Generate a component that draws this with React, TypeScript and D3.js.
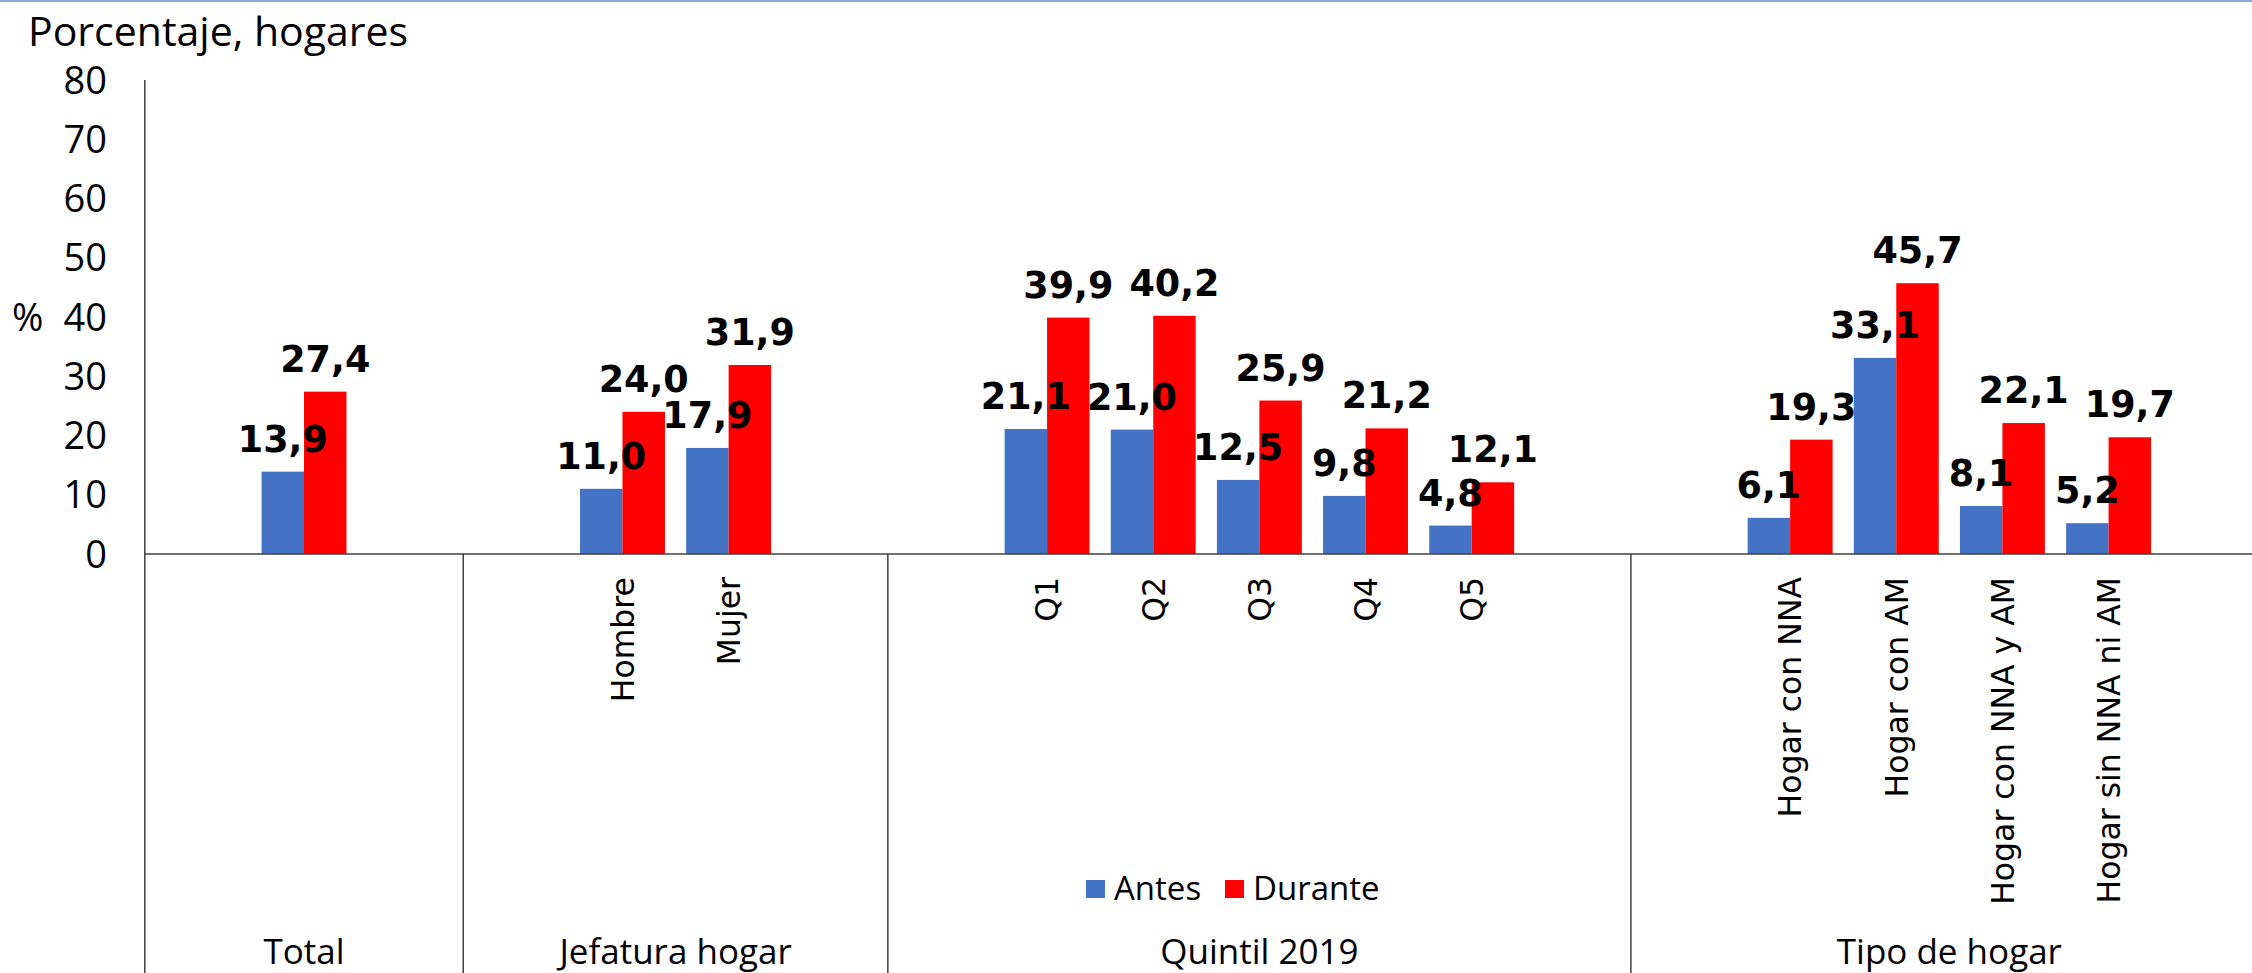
import React from "react";
import * as d3 from "d3";

const groupNames = ["Total", "Jefatura hogar", "Quintil 2019", "Tipo de hogar"];
const groupItems = [
  ["Total"],
  ["Hombre", "Mujer"],
  ["Q1", "Q2", "Q3", "Q4", "Q5"],
  ["Hogar con NNA", "Hogar con AM", "Hogar con NNA y AM", "Hogar sin NNA ni AM"],
];
const antes = [13.9, 11.0, 17.9, 21.1, 21.0, 12.5, 9.8, 4.8, 6.1, 33.1, 8.1, 5.2];
const durante = [27.4, 24.0, 31.9, 39.9, 40.2, 25.9, 21.2, 12.1, 19.3, 45.7, 22.1, 19.7];
const yTicks = [0, 10, 20, 30, 40, 50, 60, 70, 80];
const seriesNames = ["Antes", "Durante"];
const colors = ["#4472C4", "#FF0000"];

const W = 2252;
const H = 973;
const sans = "'Open Sans', 'Noto Sans', sans-serif";
const verdana = "'DejaVu Sans', Verdana, sans-serif";

export default function App() {
  // slots: each group padded with one empty slot on both sides
  const slots: { key: string; label: string; group: number; idx: number }[] = [];
  let k = 0;
  groupItems.forEach((items, g) => {
    slots.push({ key: `pad-a-${g}`, label: "", group: g, idx: -1 });
    items.forEach((it) => {
      slots.push({ key: `c-${k}`, label: g === 0 ? "" : it, group: g, idx: k });
      k++;
    });
    slots.push({ key: `pad-b-${g}`, label: "", group: g, idx: -1 });
  });

  const x = d3
    .scaleBand<string>()
    .domain(slots.map((s) => s.key))
    .range([144.8, 2267.8])
    .padding(0);
  const step = x.step();
  const bw = step * 0.4;

  const y = d3.scaleLinear().domain([0, 80]).range([554, 80]);

  const groupBounds = groupItems.map((items, g) => {
    const first = slots.find((s) => s.group === g)!;
    const last = [...slots].reverse().find((s) => s.group === g)!;
    return [x(first.key)!, x(last.key)! + step];
  });

  const dataSlots = slots.filter((s) => s.idx >= 0);
  const axisColor = "#404040";

  return (
    <svg width={W} height={H} style={{ position: "absolute", left: 0, top: 0, background: "#fff" }}>
      <line x1={0} x2={W} y1={1} y2={1} stroke="#8eaadb" strokeWidth={2} />

      <text x={28} y={46} fontFamily={sans} fontSize={41} fill="#000">
        Porcentaje, hogares
      </text>
      <text x={12} y={y(40)} dy="0.36em" fontFamily={sans} fontSize={38} fill="#000">
        %
      </text>

      {yTicks.map((t) => (
        <text key={t} x={107} y={y(t)} dy="0.36em" textAnchor="end" fontFamily={sans} fontSize={38} fill="#000">
          {t}
        </text>
      ))}

      {/* bars */}
      {dataSlots.map((s) => {
        const cx = x(s.key)! + step / 2;
        return [antes, durante].map((vals, si) => (
          <rect
            key={`${s.key}-${si}`}
            x={cx - bw + si * bw}
            y={y(vals[s.idx])}
            width={bw}
            height={y(0) - y(vals[s.idx])}
            fill={colors[si]}
          />
        ));
      })}

      {/* axes */}
      <line x1={x.range()[0]} x2={x.range()[0]} y1={y(80)} y2={H} stroke={axisColor} strokeWidth={1.5} />
      <line x1={x.range()[0]} x2={W} y1={y(0)} y2={y(0)} stroke={axisColor} strokeWidth={1.5} />
      {groupBounds.slice(1).map((b, i) => (
        <line key={i} x1={b[0]} x2={b[0]} y1={y(0)} y2={H} stroke={axisColor} strokeWidth={1.5} />
      ))}

      {/* data labels */}
      {dataSlots.map((s) => {
        const cx = x(s.key)! + step / 2;
        return [antes, durante].map((vals, si) => (
          <text
            key={`l-${s.key}-${si}`}
            x={cx - bw / 2 + si * bw}
            y={y(vals[s.idx]) - 20}
            textAnchor="middle"
            fontFamily={verdana}
            fontWeight="bold"
            fontSize={36.5}
            fill="#000"
          >
            {vals[s.idx].toFixed(1).replace(".", ",")}
          </text>
        ));
      })}

      {/* rotated category labels */}
      {dataSlots
        .filter((s) => s.label)
        .map((s) => {
          const cx = x(s.key)! + step / 2;
          return (
            <text
              key={`c-${s.key}`}
              transform={`translate(${cx},577) rotate(-90)`}
              dy="0.36em"
              textAnchor="end"
              fontFamily={verdana}
              fontSize={31.5}
              fill="#000"
            >
              {s.label}
            </text>
          );
        })}

      {/* group labels */}
      {groupNames.map((g, i) => (
        <text
          key={g}
          x={(groupBounds[i][0] + groupBounds[i][1]) / 2}
          y={964}
          textAnchor="middle"
          fontFamily={sans}
          fontSize={35}
          fill="#000"
        >
          {g}
        </text>
      ))}

      {/* legend */}
      {seriesNames.map((n, i) => {
        const lx = [1086, 1225][i];
        return (
          <g key={n}>
            <rect x={lx} y={880} width={19} height={18} fill={colors[i]} />
            <text x={lx + 28} y={900} fontFamily={sans} fontSize={33} fill="#000">
              {n}
            </text>
          </g>
        );
      })}
    </svg>
  );
}
